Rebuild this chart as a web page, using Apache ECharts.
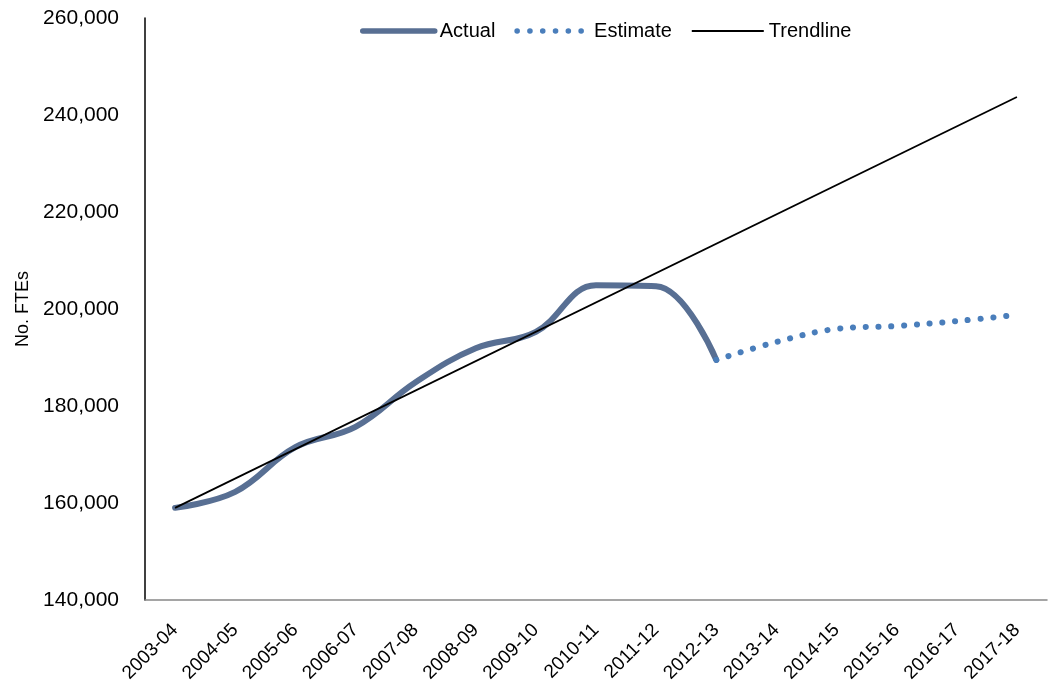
<!DOCTYPE html>
<html>
<head>
<meta charset="utf-8">
<script src="https://cdn.jsdelivr.net/npm/echarts@6/dist/echarts.min.js"></script>
<style>
  html, body { margin: 0; padding: 0; background: #fff; }
  #main { width: 1050px; height: 684px; }
</style>
</head>
<body>
<div id="main"></div>
<script>
const years = ['2003-04', '2004-05', '2005-06', '2006-07', '2007-08', '2008-09', '2009-10',
   '2010-11', '2011-12', '2012-13', '2013-14', '2014-15', '2015-16', '2016-17', '2017-18']
const actual = [159000, 162300, 171500, 175700, 184900, 191900, 195300, 204900, 204700, 189500,
   null, null, null, null, null]
const estimate = [null, null, null, null, null, null, null, null, null, 189500,
   193200, 195900, 196500, 197500, 198800]
// trendline end points (first and last year)
const trendStart = 159000
const trendEnd = 243700

let myChart = echarts.init(document.getElementById('main'))

const font = 'Liberation Sans, Arial, sans-serif'
const actualColor = '#586f93'
const estColor = '#4a7ebb'
const estDash = [0.1, 12.7]

myChart.setOption({
   animation: false,
   textStyle: { fontFamily: font },
   legend: {
      top: 16,
      left: 355,
      itemWidth: 72,
      itemHeight: 12,
      itemGap: 19,
      textStyle: { fontSize: 20, color: '#000', fontFamily: font },
      itemStyle: { opacity: 0 },
      data: [
         { name: 'Actual', lineStyle: { width: 5.5, color: actualColor, cap: 'round' } },
         { name: 'Estimate', lineStyle: { width: 5.5, color: estColor, type: estDash, cap: 'round' } },
         { name: 'Trendline', lineStyle: { width: 1.8, color: '#000' } }
      ]
   },
   grid: { left: 145, right: 3, top: 18, bottom: 84, outerBoundsMode: 'none' },
   xAxis: {
      type: 'category',
      data: years,
      boundaryGap: true,
      axisLine: { lineStyle: { color: '#888', width: 1.5 } },
      axisTick: { show: false },
      axisLabel: { rotate: 45, fontSize: 19, color: '#000', margin: 27, interval: 0 }
   },
   yAxis: {
      type: 'value',
      min: 140000,
      max: 260000,
      interval: 20000,
      name: 'No. FTEs',
      nameLocation: 'middle',
      nameRotate: 90,
      nameGap: 110,
      nameTextStyle: { fontSize: 18, color: '#000' },
      axisLine: { show: true, lineStyle: { color: '#000', width: 1.5 } },
      axisTick: { show: false },
      splitLine: { show: false },
      axisLabel: {
         fontSize: 21, color: '#000', margin: 26,
         formatter: v => v.toLocaleString('en-US')
      }
   },
   series: [
      {
         name: 'Actual',
         type: 'line',
         data: actual,
         smooth: 0.4,
         symbol: 'none',
         itemStyle: { color: actualColor },
         lineStyle: { width: 6, color: actualColor, cap: 'round' }
      },
      {
         name: 'Estimate',
         type: 'line',
         data: estimate,
         smooth: 0.4,
         symbol: 'none',
         itemStyle: { color: estColor },
         lineStyle: { width: 6, color: estColor, type: estDash, cap: 'round' }
      },
      {
         name: 'Trendline',
         type: 'line',
         data: [[years[0], trendStart], [years[years.length - 1], trendEnd]],
         symbol: 'none',
         itemStyle: { color: '#000' },
         lineStyle: { width: 1.8, color: '#000' }
      }
   ]
})
</script>
</body>
</html>
